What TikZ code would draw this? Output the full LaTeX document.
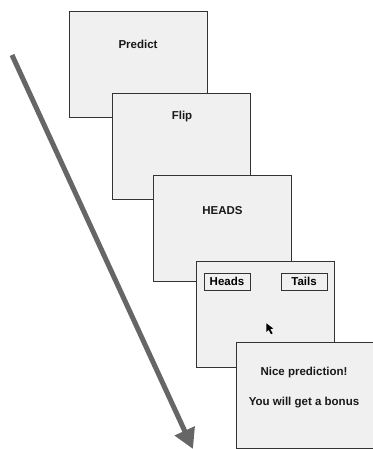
\documentclass[tikz,border=0pt]{standalone}
\usepackage{fontspec}
\setmainfont{Liberation Sans}
\usetikzlibrary{arrows.meta}

\begin{document}
\begin{tikzpicture}[
    x=1pt, y=-1pt,
    screen/.style={draw=black!80, fill=black!6, line width=0.9pt, minimum width=138pt, minimum height=106pt, inner sep=0pt},
    screentext/.style={font=\bfseries\fontsize{11.5}{13}\selectfont, text=black!90},
    choice/.style={draw=black!80, line width=0.9pt, minimum width=46pt, minimum height=17pt, inner sep=0pt, font=\bfseries\fontsize{11.5}{13}\selectfont},
    timeline/.style={draw=black!60, line width=5pt, -{Triangle[length=20pt, width=21pt]}}
]

    \useasboundingbox (0,0) rectangle (372,449);

    % Time arrow

    \coordinate (tstart) at (12, 55);

    \coordinate (tend) at (193, 449);

    \draw[timeline] (tstart) -- (tend);

    

    % Screen 1: prediction prompt

    \node[screen] (predict) at (138, 64) {};

    \node[screentext] (predicttxt) at (138, 44) {Predict};

    

    % Screen 2: coin flip

    \node[screen] (flip) at (181, 146.5) {};

    \node[screentext] (fliptxt) at (182, 117) {Flip};

    

    % Screen 3: outcome

    \node[screen] (outcome) at (222.5, 228) {};

    \node[screentext] (outcometxt) at (222.5, 211) {HEADS};

    

    % Screen 4: response buttons

    \node[screen] (respond) at (265, 314) {};

    \node[choice] (heads) at (227, 281.5) {Heads};

    \node[choice] (tails) at (304, 281.5) {Tails};

    \fill[black] (266.3, 323.3) -- (266.3, 332) -- (268.6, 329.8) -- (271, 334.2) -- (272.6, 333.4) -- (270.3, 329) -- (273.3, 328.6) -- cycle;

    

    % Screen 5: feedback

    \node[screen] (feedback) at (305, 395) {};

    \node[screentext] (feedbacktxt1) at (304, 373) {Nice prediction!};

    \node[screentext] (feedbacktxt2) at (304, 403) {You will get a bonus};

\end{tikzpicture}
\end{document}
